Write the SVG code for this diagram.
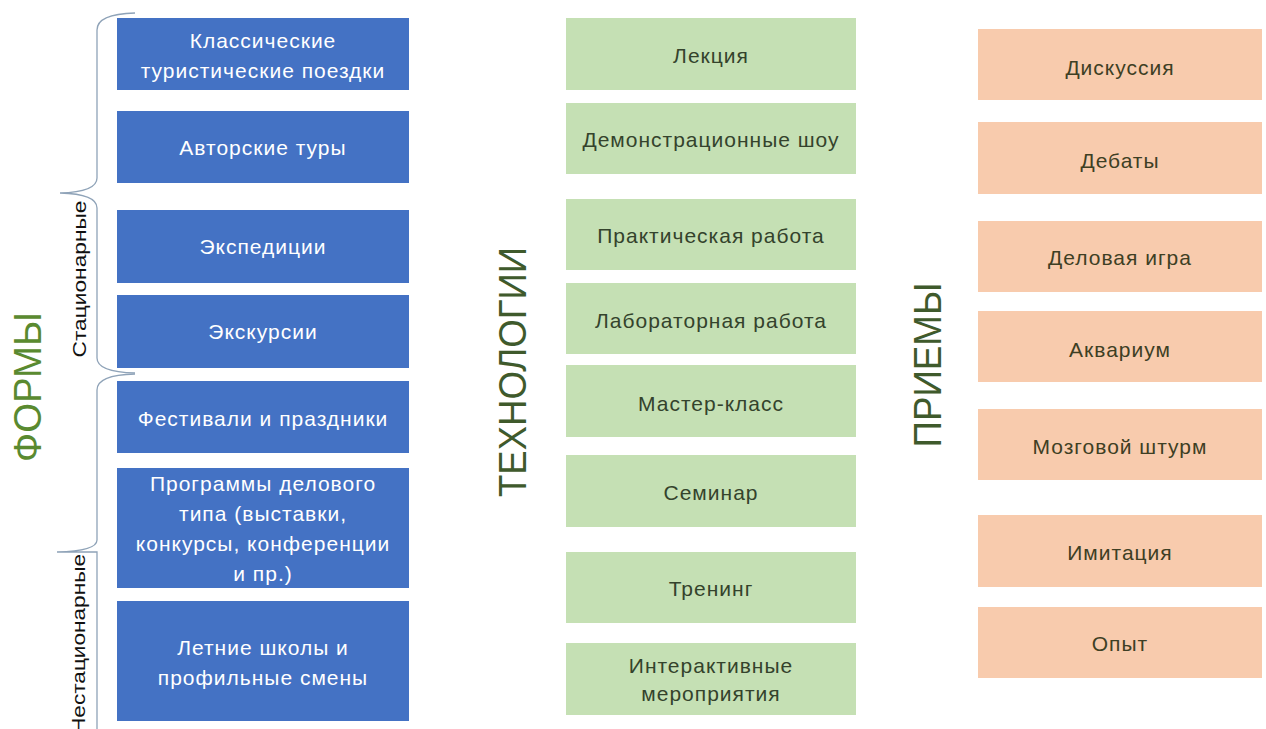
<svg xmlns="http://www.w3.org/2000/svg" width="1266" height="729" viewBox="0 0 1266 729">
<style>
  text { font-family: "Liberation Sans", Arial, sans-serif; }
  .blue { fill: #4472C4; }
  .green { fill: #C5E0B4; }
  .peach { fill: #F8CBAD; }
  .tb { fill: #FFFFFF; font-size: 21px; letter-spacing: 1px; text-anchor: middle; dominant-baseline: central; }
  .tg { fill: #34432c; font-size: 21px; letter-spacing: 1px; text-anchor: middle; dominant-baseline: central; }
  .tp { fill: #3e3f24; font-size: 21px; letter-spacing: 1px; text-anchor: middle; dominant-baseline: central; }
  .title { font-size: 38px; dominant-baseline: central; text-anchor: middle; }
  .side { fill: #111111; font-size: 19px; dominant-baseline: central; }
  .brace { fill: none; stroke: #8fa3b8; stroke-width: 1.3; }
</style>
<rect width="1266" height="729" fill="#FFFFFF"/>

<g id="connectors">
  <path class="brace" d="M135,13 Q97,14 97,30 L97,178 Q97,192 60,193 Q97,194 97,208 L97,358 Q97,372 135,373"/>
  <path class="brace" d="M135,374 Q97,375 97,390 L97,540 Q97,551 57,552 L97,552 L97,729"/>
</g>

<g id="title-formy">
  <text class="title" fill="#5a8a30" textLength="150" lengthAdjust="spacingAndGlyphs" transform="translate(28,387) rotate(-90)">ФОРМЫ</text>
</g>
<g id="label-stationary">
  <text class="side" text-anchor="middle" textLength="157" lengthAdjust="spacingAndGlyphs" transform="translate(79,279) rotate(-90)">Стационарные</text>
</g>
<g id="label-nonstationary">
  <text class="side" text-anchor="start" textLength="180" lengthAdjust="spacingAndGlyphs" transform="translate(78,734) rotate(-90)">Нестационарные</text>
</g>

<g id="f1"><rect class="blue" x="117" y="18" width="292" height="72"/><text class="tb" x="263" y="40">Классические</text><text class="tb" x="263" y="70">туристические поездки</text></g>
<g id="f2"><rect class="blue" x="117" y="111" width="292" height="72"/><text class="tb" x="263" y="147">Авторские туры</text></g>
<g id="f3"><rect class="blue" x="117" y="210" width="292" height="73"/><text class="tb" x="263" y="246">Экспедиции</text></g>
<g id="f4"><rect class="blue" x="117" y="295" width="292" height="73"/><text class="tb" x="263" y="331">Экскурсии</text></g>
<g id="f5"><rect class="blue" x="117" y="381" width="292" height="72"/><text class="tb" x="263" y="418">Фестивали и праздники</text></g>
<g id="f6"><rect class="blue" x="117" y="468" width="292" height="120"/><text class="tb" x="263" y="483">Программы делового</text><text class="tb" x="263" y="513">типа (выставки,</text><text class="tb" x="263" y="543">конкурсы, конференции</text><text class="tb" x="263" y="573">и пр.)</text></g>
<g id="f7"><rect class="blue" x="117" y="601" width="292" height="120"/><text class="tb" x="263" y="647">Летние школы и</text><text class="tb" x="263" y="677">профильные смены</text></g>

<g id="title-tech">
  <text class="title" fill="#3f5a2c" font-size="35" textLength="250" lengthAdjust="spacingAndGlyphs" transform="translate(513,372) rotate(-90)">ТЕХНОЛОГИИ</text>
</g>

<g id="t1"><rect class="green" x="566" y="18" width="290" height="72"/><text class="tg" x="711" y="55">Лекция</text></g>
<g id="t2"><rect class="green" x="566" y="103" width="290" height="71"/><text class="tg" x="711" y="139">Демонстрационные шоу</text></g>
<g id="t3"><rect class="green" x="566" y="199" width="290" height="71"/><text class="tg" x="711" y="235">Практическая работа</text></g>
<g id="t4"><rect class="green" x="566" y="283" width="290" height="71"/><text class="tg" x="711" y="320">Лабораторная работа</text></g>
<g id="t5"><rect class="green" x="566" y="365" width="290" height="72"/><text class="tg" x="711" y="403">Мастер-класс</text></g>
<g id="t6"><rect class="green" x="566" y="455" width="290" height="72"/><text class="tg" x="711" y="492">Семинар</text></g>
<g id="t7"><rect class="green" x="566" y="552" width="290" height="71"/><text class="tg" x="711" y="588">Тренинг</text></g>
<g id="t8"><rect class="green" x="566" y="643" width="290" height="72"/><text class="tg" x="711" y="665">Интерактивные</text><text class="tg" x="711" y="693">мероприятия</text></g>

<g id="title-priemy">
  <text class="title" fill="#3f5a2c" font-size="40" textLength="165" lengthAdjust="spacingAndGlyphs" transform="translate(928,365) rotate(-90)">ПРИЕМЫ</text>
</g>

<g id="p1"><rect class="peach" x="978" y="29" width="284" height="71"/><text class="tp" x="1120" y="67">Дискуссия</text></g>
<g id="p2"><rect class="peach" x="978" y="122" width="284" height="72"/><text class="tp" x="1120" y="160">Дебаты</text></g>
<g id="p3"><rect class="peach" x="978" y="221" width="284" height="71"/><text class="tp" x="1120" y="257">Деловая игра</text></g>
<g id="p4"><rect class="peach" x="978" y="311" width="284" height="71"/><text class="tp" x="1120" y="349">Аквариум</text></g>
<g id="p5"><rect class="peach" x="978" y="409" width="284" height="71"/><text class="tp" x="1120" y="446">Мозговой штурм</text></g>
<g id="p6"><rect class="peach" x="978" y="515" width="284" height="72"/><text class="tp" x="1120" y="552">Имитация</text></g>
<g id="p7"><rect class="peach" x="978" y="607" width="284" height="71"/><text class="tp" x="1120" y="643">Опыт</text></g>
</svg>
